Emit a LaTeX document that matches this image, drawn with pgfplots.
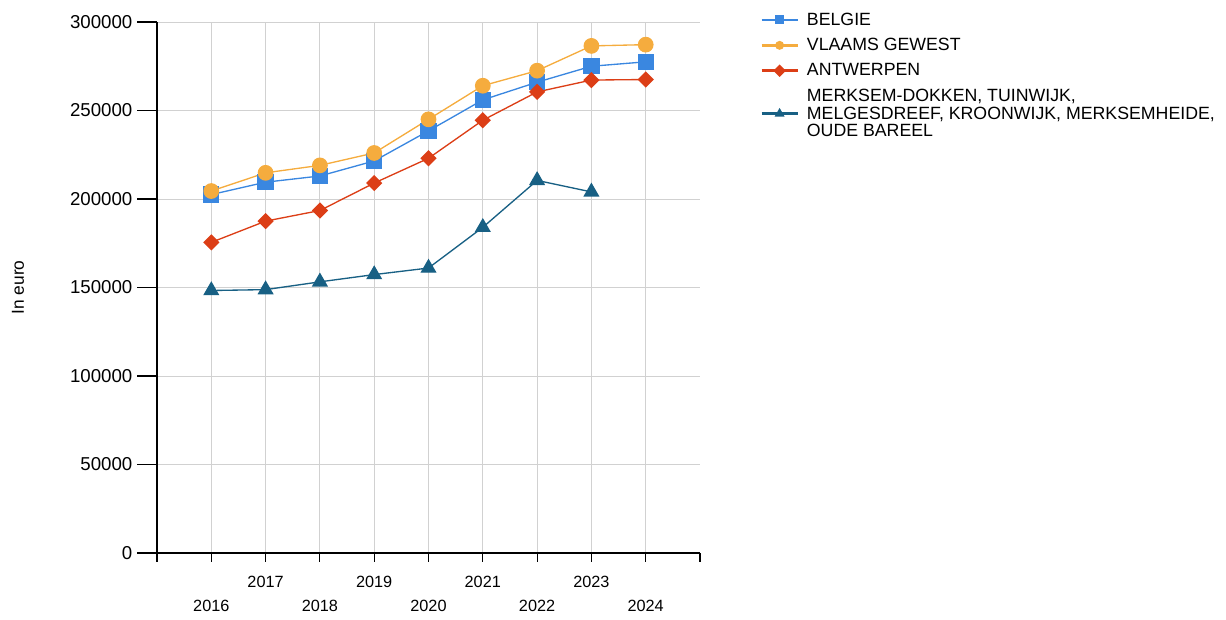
\documentclass[border=0pt]{standalone}
\usepackage{pgfplots}
\pgfplotsset{compat=1.18}
\usepackage{fontspec}
\setmainfont{Liberation Sans}
\definecolor{cBel}{RGB}{58,135,224}
\definecolor{cVla}{RGB}{245,172,62}
\definecolor{cAnt}{RGB}{220,62,22}
\definecolor{cMer}{RGB}{24,96,132}
\begin{document}
\begin{tikzpicture}[x=1pt,y=1pt]
\path[use as bounding box] (0,0) rectangle (919.5,464.25);
\begin{axis}[
  at={(117.75pt,49.5pt)}, anchor=south west,
  scale only axis, width=407.25pt, height=398.25pt,
  xmin=2015, xmax=2025, ymin=0, ymax=300000,
  axis x line=bottom, axis y line=left,
  axis line style={-, black, line width=0.8pt},
  tick align=outside,
  major tick length=15pt,
  xtick style={/pgfplots/major tick length=6.5pt, black, line width=0.8pt},
  ytick style={black, line width=0.8pt},
  xtick={2016,...,2024},
  extra x ticks={2015,2025},
  extra x tick labels={},
  extra x tick style={grid=none},
  xticklabels={{\strut\\2016},{2017\\\strut},{\strut\\2018},{2019\\\strut},{\strut\\2020},{2021\\\strut},{\strut\\2022},{2023\\\strut},{\strut\\2024}},
  xticklabel style={align=center, font=\fontsize{12.2}{15.5}\selectfont, yshift=1.2pt},
  ytick={0,50000,...,300000},
  scaled y ticks=false,
  yticklabel style={font=\fontsize{14}{16}\selectfont, /pgf/number format/fixed, /pgf/number format/1000 sep={}},
  /pgf/number format/assume math mode=true,
  grid=major,
  grid style={line width=0.6pt, black!18},
  ylabel={In euro},
  ylabel style={font=\fontsize{13}{15}\selectfont, at={(axis description cs:-0.256,0.5)}, anchor=center},
  legend cell align=left,
  legend style={draw=none, fill=none, at={(axis description cs:1.1105,1.018)}, anchor=north west,
    font=\fontsize{13.3}{12.4}\selectfont, row sep=8.3pt, inner sep=0pt,
    nodes={inner sep=0pt, align=left}, column sep=6pt},
  legend image code/.code={\draw[mark repeat=2,mark phase=2,#1,line width=2pt,mark size=2.3pt] plot coordinates {(0pt,0pt) (13.5pt,0pt) (27pt,0pt)};},
]
\addplot[cBel, line width=1pt, mark=square*, mark size=5.6pt, mark options={solid, fill=cBel, draw=cBel}] coordinates {
(2016,202500) (2017,209500) (2018,213000) (2019,221500) (2020,238500) (2021,256000) (2022,266000) (2023,275000) (2024,277500)};
\addlegendentry{\strut BELGIE}
\addplot[cVla, line width=1pt, mark=*, mark size=5.4pt, mark options={solid, fill=cVla, draw=cVla}] coordinates {
(2016,204500) (2017,214800) (2018,219000) (2019,226000) (2020,245000) (2021,264000) (2022,272500) (2023,286500) (2024,287200)};
\addlegendentry{\strut VLAAMS GEWEST}
\addplot[cAnt, line width=1pt, mark=square*, mark size=3.8pt, mark options={solid, rotate=45, fill=cAnt, draw=cAnt}] coordinates {
(2016,175500) (2017,187500) (2018,193500) (2019,209000) (2020,223000) (2021,244500) (2022,260500) (2023,267200) (2024,267500)};
\addlegendentry{\strut ANTWERPEN}
\addplot[cMer, line width=1pt, mark=triangle*, mark size=6pt, mark options={solid, fill=cMer, draw=cMer}] coordinates {
(2016,148300) (2017,148800) (2018,153200) (2019,157300) (2020,161000) (2021,184000) (2022,210500) (2023,204000)};
\addlegendentry{\strut MERKSEM-DOKKEN, TUINWIJK,\\MELGESDREEF, KROONWIJK, MERKSEMHEIDE,\\OUDE BAREEL\strut}
\end{axis}
\end{tikzpicture}
\end{document}
